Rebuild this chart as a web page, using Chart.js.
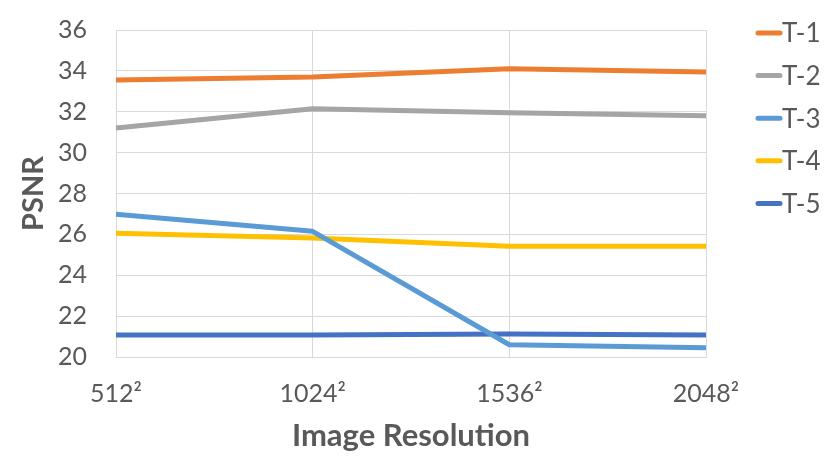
<!DOCTYPE html>
<html>
<head>
<meta charset="utf-8">
<script src="https://cdn.jsdelivr.net/npm/chart.js@4/dist/chart.umd.min.js"></script>
<style>
  html, body { margin: 0; padding: 0; background: #ffffff; }
  #wrap { width: 830px; height: 471px; position: relative; }
</style>
</head>
<body>
<div id="wrap"><canvas id="c"></canvas></div>
<script>
const categories = ['512²', '1024²', '1536²', '2048²'];
const seriesNames = ['T-1', 'T-2', 'T-3', 'T-4', 'T-5'];
const t1 = [33.55, 33.7, 34.1, 33.95];
const t2 = [31.2, 32.15, 31.95, 31.8];
const t3 = [26.98, 26.15, 20.6, 20.45];
const t4 = [26.05, 25.82, 25.42, 25.42];
const t5 = [21.08, 21.08, 21.12, 21.08];
const yTicks = [20, 22, 24, 26, 28, 30, 32, 34, 36];
const colors = ['#ED7D31', '#A5A5A5', '#5B9BD5', '#FFC000', '#4472C4'];
const allSeries = [t1, t2, t3, t4, t5];

const FONT = 'Lato, "Liberation Sans", sans-serif';
const TEXT = '#595959';

const legendPlugin = {
  id: 'sideLegend',
  afterDraw(chart) {
    const ctx = chart.ctx;
    ctx.save();
    chart.data.datasets.forEach((ds, i) => {
      const y = 33 + i * 42.6;
      ctx.strokeStyle = ds.borderColor;
      ctx.lineWidth = 5;
      ctx.lineCap = 'round';
      ctx.beginPath();
      ctx.moveTo(758, y);
      ctx.lineTo(780, y);
      ctx.stroke();
      ctx.fillStyle = TEXT;
      ctx.font = '26px ' + FONT;
      ctx.textAlign = 'left';
      ctx.textBaseline = 'middle';
      ctx.fillText(ds.label, 782, y + 1);
    });
    ctx.restore();
  }
};

new Chart(document.getElementById('c'), {
  type: 'line',
  data: {
    labels: categories,
    datasets: seriesNames.map((name, i) => ({
      label: name,
      data: allSeries[i],
      borderColor: colors[i],
      backgroundColor: colors[i],
      borderWidth: 5,
      pointRadius: 0,
      pointHoverRadius: 0,
      tension: 0,
      fill: false,
      borderCapStyle: 'butt',
      borderJoinStyle: 'round'
    }))
  },
  options: {
    responsive: true,
    maintainAspectRatio: false,
    animation: false,
    events: [],
    layout: { padding: { left: 0, right: 124, top: 30, bottom: 0 } },
    plugins: {
      legend: { display: false },
      tooltip: { enabled: false }
    },
    scales: {
      x: {
        type: 'category',
        offset: false,
        grid: { color: '#D9D9D9', lineWidth: 1, drawTicks: false },
        border: { color: '#D9D9D9', width: 1 },
        ticks: {
          color: TEXT,
          font: { family: FONT, size: 25 },
          padding: 22,
          maxRotation: 0,
          autoSkip: false
        },
        title: {
          display: true,
          text: 'Image Resolution',
          color: TEXT,
          font: { family: FONT, size: 31, weight: 'bold' },
          padding: { top: 0, bottom: 16 }
        },
        afterFit(scale) { scale.height = 114; scale.paddingLeft = 0; scale.paddingRight = 0; }
      },
      y: {
        min: 20,
        max: 36,
        afterBuildTicks(scale) { scale.ticks = yTicks.map(v => ({ value: v })); },
        grid: { color: '#D9D9D9', lineWidth: 1, drawTicks: false },
        border: { color: '#D9D9D9', width: 1 },
        ticks: {
          color: TEXT,
          font: { family: FONT, size: 25 },
          padding: 29
        },
        title: {
          display: true,
          text: 'PSNR',
          color: TEXT,
          font: { family: FONT, size: 29, weight: 'bold' },
          padding: { top: 16, bottom: 0 }
        },
        afterFit(scale) { scale.width = 116; scale.paddingTop = 0; scale.paddingBottom = 0; }
      }
    }
  },
  plugins: [legendPlugin]
});
</script>
</body>
</html>
